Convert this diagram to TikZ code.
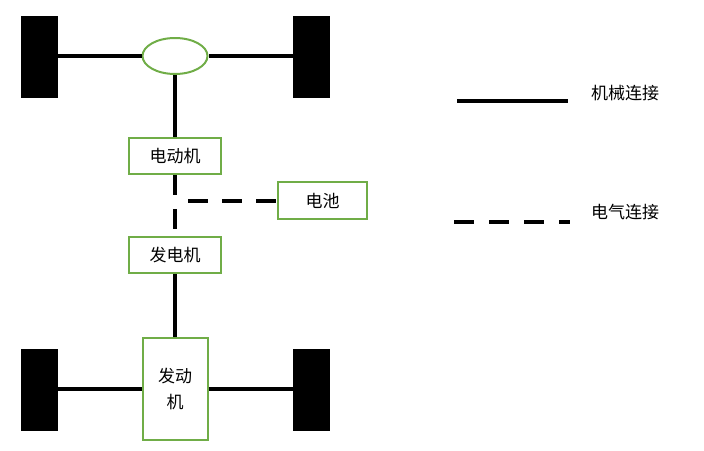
\documentclass[tikz,border=0pt]{standalone}
\usepackage{fontspec}
\newfontfamily\cjk{Noto Sans CJK SC}
\usetikzlibrary{shapes.geometric}
\definecolor{boxgreen}{RGB}{112,173,71}
\tikzset{
  wheel/.style={fill=black,draw=none,minimum width=37pt,minimum height=82pt,inner sep=0pt},
  unit/.style={draw=boxgreen,line width=2pt,fill=white,inner sep=0pt,font=\cjk\fontsize{17}{25}\selectfont,align=center},
  mech/.style={line width=4pt},
  elec/.style={line width=4pt,dash pattern=on 20pt off 14pt},
  lbl/.style={font=\cjk\fontsize{17}{20}\selectfont,inner sep=0pt}
}
\begin{document}
\begin{tikzpicture}[x=1pt,y=-1pt]
\useasboundingbox (0,0) rectangle (704,450);
% top axle
\node[wheel] (wtl) at (39.5,57) {};
\node[wheel] (wtr) at (311.5,57) {};
\node[unit,ellipse,minimum width=65pt,minimum height=36pt] (diff) at (175,56) {};
\draw[mech] (wtl.east |- diff.west) -- (diff.west);
\draw[mech] (diff.east) -- (wtr.west |- diff.east);
% motor
\node[unit,minimum width=92pt,minimum height=36pt] (motor) at (175,156) {电动机};
\draw[mech] (diff.south) -- (motor.north);
% generator
\node[unit,minimum width=92pt,minimum height=36pt] (gen) at (175,255) {发电机};
\draw[elec] (motor.south) -- (gen.north);
% battery
\node[unit,minimum width=89pt,minimum height=37pt] (bat) at (322.5,200.5) {电池};
\coordinate (bj) at (188,201);
\draw[elec] (bj) -- (bat.west |- bj);
% engine
\node[unit,minimum width=65pt,minimum height=102pt] (eng) at (175,389) {发动\\机};
\draw[mech] (gen.south) -- (eng.north);
% bottom axle
\node[wheel] (wbl) at (39.5,390) {};
\node[wheel] (wbr) at (311.5,390) {};
\draw[mech] (wbl.east |- 0,389) -- (eng.west |- 0,389);
\draw[mech] (eng.east |- 0,389) -- (wbr.west |- 0,389);
% legend
\coordinate (l1a) at (457,101);
\coordinate (l1b) at (568,101);
\draw[mech,line width=4.5pt] (l1a) -- (l1b);
\node[lbl,anchor=west] (t1) at (591,93) {机械连接};
\coordinate (l2a) at (454,222);
\coordinate (l2b) at (570,222);
\draw[elec,line width=4.5pt,dash pattern=on 20pt off 15pt] (l2a) -- (l2b);
\node[lbl,anchor=west] (t2) at (591,212) {电气连接};
\end{tikzpicture}
\end{document}
